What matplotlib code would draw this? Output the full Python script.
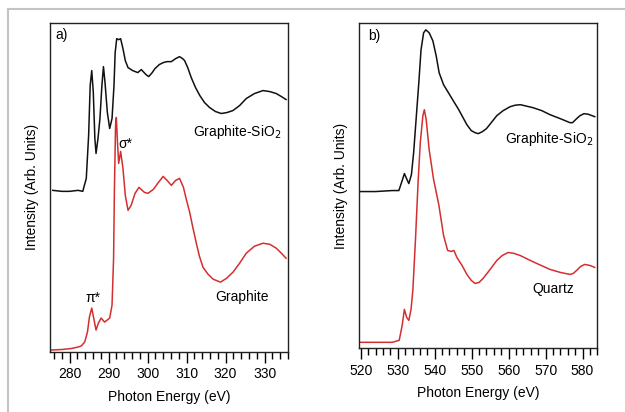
import matplotlib
matplotlib.use("Agg")
import matplotlib.pyplot as plt
from matplotlib.lines import Line2D
from matplotlib.ticker import MultipleLocator

plt.rcParams['font.family'] = ['Liberation Sans', 'DejaVu Sans']
plt.rcParams['font.size'] = 10

# C K-edge (a)
c_energy_sio2 = [275.7, 278.0, 280.0, 282.2, 283.4, 284.3, 284.9, 285.3, 285.7, 286.1,
                 286.5, 286.8, 287.3, 287.8, 288.3, 288.7, 289.1, 289.7, 290.3, 290.9,
                 291.4, 291.7, 292.1, 292.6, 293.1, 293.7, 294.3, 295.0, 296.2, 297.5,
                 298.4, 299.6, 300.3, 301.2, 301.9, 303.0, 304.0, 305.0, 306.1, 307.2,
                 308.2, 309.0, 309.5, 310.3, 311.2, 312.3, 313.4, 314.6, 315.9, 317.4,
                 318.9, 320.4, 321.9, 323.6, 325.3, 327.4, 329.6, 331.3, 333.0, 334.3,
                 335.5]
c_int_sio2 = [162, 161, 161, 162, 161, 174, 217, 267, 282, 260,
              214, 199, 214, 234, 267, 286, 270, 240, 224, 234,
              267, 300, 314, 313, 314, 304, 292, 285, 282, 280,
              283, 278, 276, 280, 284, 288, 290, 291, 291, 294,
              296, 294, 292, 285, 275, 265, 257, 250, 245, 241,
              239, 240, 242, 247, 254, 259, 262, 261, 259, 256,
              253]

c_energy_graphite = [275.4, 278.0, 280.5, 282.2, 283.0, 283.9, 284.6, 285.1, 285.7, 286.2,
                     286.8, 287.4, 288.1, 289.0, 290.3, 290.9, 291.3, 291.5, 291.8, 292.0,
                     292.3, 292.6, 293.1, 293.7, 294.3, 295.0, 295.8, 296.8, 297.8, 299.2,
                     300.1, 301.5, 302.8, 304.0, 305.0, 306.1, 307.2, 308.2, 309.2, 310.0,
                     310.8, 311.6, 312.5, 313.3, 314.2, 315.5, 316.8, 318.7, 320.3, 321.9,
                     323.6, 325.3, 327.4, 329.6, 331.3, 333.0, 334.3, 335.5]
c_int_graphite = [2, 2.5, 3.5, 5, 6, 10, 20, 35, 44, 34,
                  22, 29, 34, 30, 34, 47, 94, 160, 227, 235,
                  210, 189, 201, 184, 157, 142, 147, 159, 165, 160,
                  159, 163, 170, 176, 172, 167, 172, 174, 165, 152,
                  140, 125, 109, 96, 85, 78, 73, 70, 74, 80,
                  89, 99, 106, 109, 108, 104, 99, 94]

# O K-edge (b)
o_energy_sio2 = [519.8, 524.0, 528.5, 530.3, 531.2, 531.8, 532.5, 533.0, 533.7, 534.3,
                 534.9, 535.7, 536.3, 537.0, 537.6, 538.5, 539.5, 540.4, 541.2, 542.4,
                 544.2, 546.5, 548.7, 549.9, 550.9, 551.8, 552.9, 554.0, 555.3, 556.8,
                 558.5, 560.4, 561.8, 563.2, 566.6, 569.0, 571.2, 574.0, 576.6, 577.3,
                 578.4, 579.3, 580.4, 581.5, 583.3]
o_int_sio2 = [157, 157, 158, 158, 168, 175, 169, 165, 174, 196,
              226, 266, 299, 316, 319, 316, 308, 293, 276, 264,
              253, 239, 224, 218, 216, 215, 217, 220, 226, 233,
              238, 242, 243.5, 244, 241, 238, 234, 230, 226, 226,
              230, 233, 235, 234.5, 232]

o_energy_quartz = [519.8, 524.0, 528.5, 530.4, 531.2, 531.8, 532.4, 533.0, 533.6, 534.1,
                   534.8, 535.5, 536.1, 536.8, 537.2, 537.7, 538.5, 539.7, 541.1, 542.4,
                   543.5, 544.5, 545.2, 546.0, 547.4, 548.7, 549.9, 550.9, 552.0, 553.1,
                   555.0, 556.8, 558.3, 559.9, 561.5, 563.1, 565.3, 567.6, 569.4, 571.2,
                   574.0, 576.6, 577.5, 578.4, 579.5, 580.6, 582.0, 583.3]
o_int_quartz = [6, 6, 6, 8, 23, 39, 31, 28, 39, 59,
                109, 166, 206, 233, 239, 229, 199, 169, 144, 113,
                98, 97, 98, 91, 83, 74, 68, 65, 66, 70,
                79, 88, 93, 96, 95, 93, 89, 85, 82, 79,
                76, 74, 75, 78, 82, 84, 83, 81]

black = '#111111'
red = '#d42f2f'

fig = plt.figure(figsize=(6.25, 4.12), dpi=100)
ax1 = fig.add_axes([0.08, 0.1456, 0.3808, 0.7993])
ax2 = fig.add_axes([0.5749, 0.1546, 0.3808, 0.790])

ax1.plot(c_energy_sio2, c_int_sio2, color=black, lw=1.1)
ax1.plot(c_energy_graphite, c_int_graphite, color=red, lw=1.1)
ax1.set_xlim(275, 336)
ax1.set_ylim(0, 330)
ax1.xaxis.set_major_locator(MultipleLocator(10))
ax1.xaxis.set_minor_locator(MultipleLocator(2))

ax1.text(334.3, 220, 'Graphite-SiO$_2$', ha='right', va='center')
ax1.text(324.1, 55, 'Graphite', ha='center', va='center')
ax1.text(292.6, 208, 'σ*', ha='left', va='center')
ax1.text(285.9, 54, 'π*', ha='center', va='center')
ax1.text(0.021, 0.963, 'a)', transform=ax1.transAxes, ha='left', va='center')

ax2.plot(o_energy_sio2, o_int_sio2, color=black, lw=1.1)
ax2.plot(o_energy_quartz, o_int_quartz, color=red, lw=1.1)
ax2.set_xlim(519.6, 584)
ax2.set_ylim(0, 326)
ax2.xaxis.set_major_locator(MultipleLocator(10))
ax2.xaxis.set_minor_locator(MultipleLocator(2))

ax2.text(582.8, 210, 'Graphite-SiO$_2$', ha='right', va='center')
ax2.text(572.2, 59, 'Quartz', ha='center', va='center')
ax2.text(0.038, 0.96, 'b)', transform=ax2.transAxes, ha='left', va='center')

for ax in (ax1, ax2):
    ax.set_yticks([])
    ax.set_ylabel('Intensity (Arb. Units)', labelpad=8)
    ax.set_xlabel('Photon Energy (eV)', labelpad=6)
    ax.tick_params(axis='x', which='major', direction='out', length=8, width=1, pad=3)
    ax.tick_params(axis='x', which='minor', direction='out', length=5, width=1)
    for s in ax.spines.values():
        s.set_linewidth(1.0)
        s.set_color('#222222')

# light frame around the figure
fig.add_artist(Line2D([0.0128, 1.0], [0.978, 0.978], transform=fig.transFigure,
                      color='#c4c4c4', lw=1.5))
fig.add_artist(Line2D([0.0128, 0.0128], [0.0, 0.978], transform=fig.transFigure,
                      color='#c4c4c4', lw=1.5))

fig.savefig('out.png', dpi=100)
